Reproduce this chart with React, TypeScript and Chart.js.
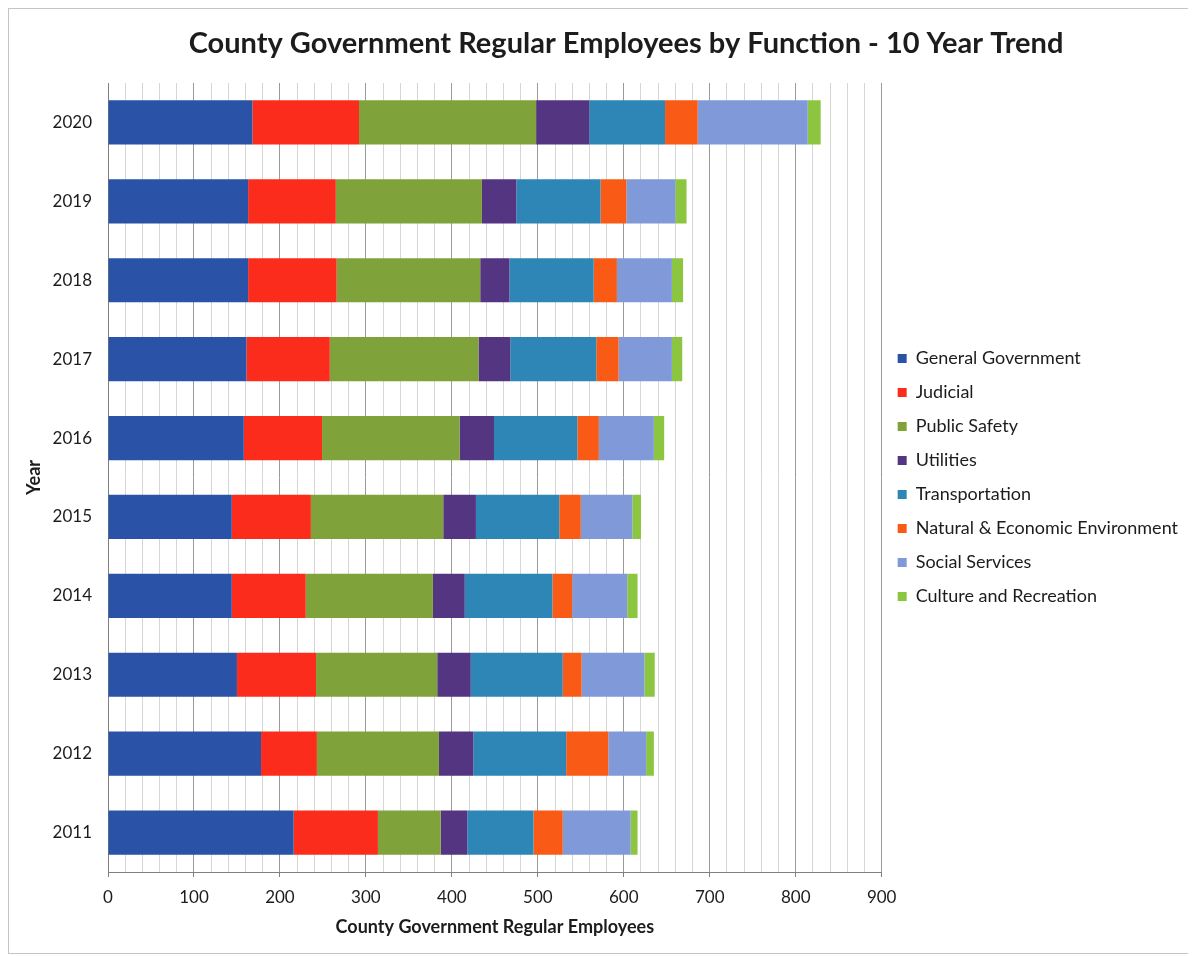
import React, { useEffect, useRef } from 'react';
import { Chart, registerables } from 'chart.js';

Chart.register(...registerables);

const chartTitle = 'County Government Regular Employees by Function - 10 Year Trend';
const xAxisTitle = 'County Government Regular Employees';
const yAxisTitle = 'Year';

const years = ['2020', '2019', '2018', '2017', '2016', '2015', '2014', '2013', '2012', '2011'];

const generalGovernment = [168, 163, 163, 161, 158, 144, 144, 150, 178, 216];
const judicial = [124, 102, 103, 97, 91, 92, 86, 92, 65, 98];
const publicSafety = [206, 170, 167, 173, 160, 154, 148, 141, 142, 73];
const utilities = [62, 40, 34, 37, 40, 38, 37, 39, 40, 31];
const transportation = [88, 98, 98, 100, 97, 97, 102, 107, 108, 77];
const naturalEconomic = [38, 30, 27, 26, 25, 25, 23, 22, 49, 34];
const socialServices = [128, 57, 64, 62, 64, 60, 64, 73, 44, 79];
const cultureRecreation = [15, 13, 13, 12, 12, 10, 12, 12, 9, 8];

const seriesNames = [
  'General Government',
  'Judicial',
  'Public Safety',
  'Utilities',
  'Transportation',
  'Natural & Economic Environment',
  'Social Services',
  'Culture and Recreation',
];
const seriesValues = [
  generalGovernment,
  judicial,
  publicSafety,
  utilities,
  transportation,
  naturalEconomic,
  socialServices,
  cultureRecreation,
];
const seriesColors = ['#2A52A6', '#FB2C1C', '#80A23A', '#533581', '#2D86B5', '#F95A16', '#8099D8', '#8CC640'];

const xMin = 0;
const xMax = 900;
const xMinorStep = 20;
const xMajorStep = 100;

const FONT = 'Lato, "Open Sans", sans-serif';

const titlePlugin = {
  id: 'customTitle',
  afterDraw(chart: any) {
    const { ctx } = chart;
    ctx.save();
    ctx.font = `bold 29px ${FONT}`;
    ctx.fillStyle = '#1c1c1c';
    ctx.textAlign = 'center';
    ctx.textBaseline = 'middle';
    ctx.fillText(chartTitle, 617, 35);
    ctx.restore();
  },
};

export default function App() {
  const canvasRef = useRef<HTMLCanvasElement | null>(null);

  useEffect(() => {
    if (!canvasRef.current) return;
    const chart = new Chart(canvasRef.current, {
      type: 'bar',
      data: {
        labels: years,
        datasets: seriesNames.map((name, i) => ({
          label: name,
          data: seriesValues[i],
          backgroundColor: seriesColors[i],
          borderWidth: 0,
          barPercentage: 0.56,
          categoryPercentage: 1,
        })),
      },
      plugins: [titlePlugin],
      options: {
        indexAxis: 'y',
        animation: false,
        responsive: false,
        devicePixelRatio: 1,
        layout: { padding: { top: 74, left: 0, right: 5, bottom: 11 } },
        plugins: {
          title: { display: false },
          tooltip: { enabled: false },
          legend: {
            display: true,
            position: 'right',
            fullSize: false,
            align: 'center',
            maxWidth: 420,
            labels: {
              boxWidth: 9,
              boxHeight: 9,
              padding: 16,
              color: '#1c1c1c',
              font: { family: FONT, size: 18 },
            },
          },
        },
        scales: {
          x: {
            stacked: true,
            min: xMin,
            max: xMax,
            afterFit: (scale: any) => {
              scale.height = 70;
            },
            ticks: {
              stepSize: xMinorStep,
              autoSkip: false,
              maxRotation: 0,
              padding: 10,
              color: '#1c1c1c',
              font: { family: FONT, size: 17 },
              callback: (v: any) => (Number(v) % xMajorStep === 0 ? String(v) : ''),
            },
            grid: {
              drawTicks: true,
              tickLength: 5,
              color: (c: any) => (c.tick && c.tick.value % xMajorStep === 0 ? '#9a9a9a' : '#d6d6d6'),
              tickColor: (c: any) => (c.tick && c.tick.value % xMajorStep === 0 ? '#808080' : 'rgba(0,0,0,0)'),
              lineWidth: 1,
            },
            border: { display: true, color: '#808080', width: 1 },
            title: {
              display: true,
              text: xAxisTitle,
              color: '#1c1c1c',
              font: { family: FONT, size: 18, weight: 'bold' },
              padding: { top: 0, bottom: 4 },
            },
          },
          y: {
            stacked: true,
            afterFit: (scale: any) => {
              scale.width = 99;
            },
            ticks: {
              padding: 16,
              color: '#1c1c1c',
              font: { family: FONT, size: 17 },
            },
            grid: { display: false, drawTicks: false },
            border: { display: true, color: '#808080', width: 1 },
            title: {
              display: true,
              text: yAxisTitle,
              color: '#1c1c1c',
              font: { family: FONT, size: 18, weight: 'bold' },
              padding: { top: 14, bottom: 0 },
            },
          },
        },
      },
    } as any);
    return () => chart.destroy();
  }, []);

  return (
    <div
      style={{
        width: 1186,
        height: 946,
        border: '1px solid #c4c4c4',
        boxSizing: 'border-box',
        background: '#ffffff',
      }}
    >
      <canvas ref={canvasRef} width={1184} height={944} style={{ display: 'block' }} />
    </div>
  );
}
